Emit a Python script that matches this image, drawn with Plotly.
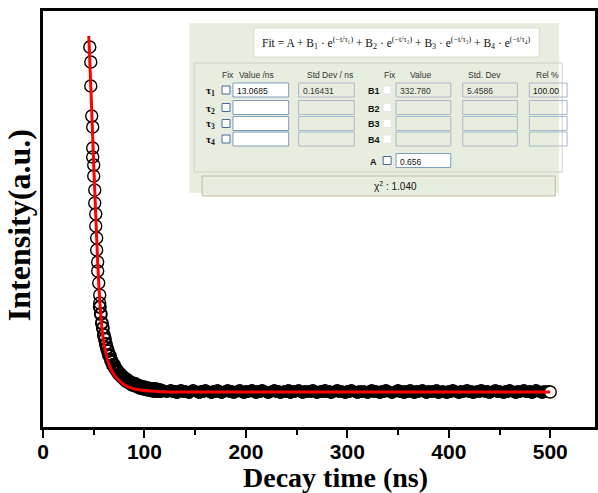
import numpy as np
import plotly.graph_objects as go

# ---------------- data ----------------
t_steep = [46.1, 47.1, 47.1, 48.0, 49.0, 49.0, 49.0, 50.0, 50.0, 51.0, 51.0, 52.0, 52.0,
           52.9, 52.9, 53.9, 53.9, 54.9, 55.9, 55.9]
i_steep = [380, 365, 341, 311, 300, 279, 270, 262, 251, 237, 224, 213, 201,
           189, 177, 165, 156, 144, 132, 124]

t_knee = list(range(56, 117))
i_knee = [120, 113, 104, 99, 92, 88, 83, 79, 76, 72, 71, 67, 65, 62, 62, 59, 58, 56, 55, 53,
          53, 51, 50, 50, 48, 48, 46, 47, 45, 45, 44, 43, 44, 42, 42, 43, 41, 41, 40, 41,
          39, 40, 39, 40, 38, 39, 38, 39, 37, 38, 38, 37, 38, 36, 37, 38, 36, 37, 36, 37, 36]

t_tail = list(range(118, 499, 2))
i_tail = [37, 36, 35, 36, 37, 35, 36, 34, 36, 37, 35, 36, 35, 34, 36, 37, 36, 35, 34, 36,
          35, 37, 36, 35, 34, 36, 35, 37, 36, 34, 35, 36, 37, 35, 36, 34, 35, 36, 37, 35,
          34, 36, 35, 36, 37, 35, 34, 36, 35, 37, 36, 35, 34, 35, 36, 37, 35, 36, 34, 35,
          36, 35, 37, 34, 36, 35, 36, 37, 35, 34, 36, 35, 36, 35, 37, 36, 34, 35, 36, 35,
          37, 35, 36, 34, 35, 36, 37, 35, 36, 35, 34, 36, 35, 37, 36, 35, 34, 36, 35, 36,
          35, 34, 36, 37, 35, 36, 35, 34, 36, 35, 37, 36, 35, 34, 35, 36, 37, 35, 36, 34,
          36, 35, 37, 35, 34, 36, 35, 36, 37, 35, 34, 36, 35, 36, 35, 37, 34, 35, 36, 35,
          34, 36, 35, 37, 36, 35, 34, 36, 35, 36, 37, 35, 36, 34, 35, 36, 35, 37, 36, 35,
          36, 34, 35, 36, 37, 35, 36, 35, 34, 36, 35, 37, 36, 35, 34, 36, 35, 36, 37, 35,
          35, 36, 34, 35, 37, 36, 35, 34, 36, 35, 36]
t_last, i_last = [500], [35]

t_fit = [45.1, 46.1, 48.0, 50.0, 52.0, 53.9, 55.9, 57.8, 59.8, 62.7, 65.7, 69.6, 75.5,
         82.4, 90.2, 104.9, 124.5, 200, 300, 400, 500]
i_fit = [391, 367, 317, 262, 212, 165, 127, 102, 85, 71, 61, 53, 46,
         41, 38, 36, 35, 35, 35, 35, 35]

x_ticks = [0, 100, 200, 300, 400, 500]

# fit-dialog contents
formula = ("Fit = A + B<sub>1</sub> · e<sup>(−t/τ₁)</sup> + B<sub>2</sub> · e<sup>(−t/τ₂)</sup>"
           " + B<sub>3</sub> · e<sup>(−t/τ₃)</sup> + B<sub>4</sub> · e<sup>(−t/τ₄)</sup>")
tau_labels = ["τ<sub>1</sub>", "τ<sub>2</sub>", "τ<sub>3</sub>", "τ<sub>4</sub>"]
b_labels = ["B1", "B2", "B3", "B4"]
tau1_value, tau1_std = "13.0685", "0.16431"
b1_value, b1_std, b1_rel = "332.780", "5.4586", "100.00"
a_value = "0.656"
chi2_text = "χ<sup>2</sup> : 1.040"

# ---------------- figure ----------------
W, H = 598, 493
L, R, T, B = 43, 0, 11, 66
PW, PH = W - L - R, H - T - B


def px(x):
    return (x - L) / PW


def py(y):
    return (H - B - y) / PH


fig = go.Figure()


def circles(tx, iy, lw, fill=None, size=12):
    sym = "circle" if fill else "circle-open"
    fig.add_trace(go.Scatter(x=[float(v) for v in tx], y=iy, mode="markers",
                             marker=dict(symbol=sym, size=size, color=fill or "black",
                                         line=dict(width=lw, color="black")),
                             showlegend=False, hoverinfo="skip"))


circles(t_steep, i_steep, 1.4)
circles(t_knee, i_knee, 2.0)
circles(t_tail, i_tail, 1.0, fill="black", size=11)
circles(t_last, i_last, 1.4, fill="white")

fig.add_trace(go.Scatter(x=t_fit, y=i_fit, mode="lines",
                         line=dict(color="#ff0000", width=3, shape="spline", smoothing=0.6),
                         showlegend=False, hoverinfo="skip"))

shapes = []
ann = []

def rect(x0, y0, x1, y1, fill="rgba(0,0,0,0)", line="#7f9db9", lw=1):
    shapes.append(dict(type="rect", xref="paper", yref="paper",
                       x0=px(x0), x1=px(x1), y0=py(y1), y1=py(y0),
                       fillcolor=fill, line=dict(color=line, width=lw), layer="above"))

def text(x, y, s, size=9, color="#222", anchor="left", bold=False, family="Liberation Sans"):
    ann.append(dict(xref="paper", yref="paper", x=px(x), y=py(y), text=s, showarrow=False,
                    xanchor=anchor, yanchor="middle",
                    font=dict(size=size, color=color, family=family,
                              weight="bold" if bold else "normal")))

BG = "#e7eddf"
# dialog background
rect(190, 23, 562, 193, fill=BG, line=BG, lw=0)
# formula box
rect(255, 28, 542, 57, fill="white", line="#d8d8d0")
text(398.5, 43, formula, size=11.5, color="#111", anchor="center", family="Liberation Serif")
# parameter group frame
rect(195, 63, 565, 172, fill="rgba(0,0,0,0)", line="#cfd2c4")
# headers
for x, s in [(221, "Fix"), (238, "Value /ns"), (306, "Std Dev / ns"), (384, "Fix"),
             (410, "Value"), (468, "Std. Dev"), (537, "Rel %")]:
    text(x, 75, s, size=8.5, color="#333")

rows_y = [91, 108.5, 124.5, 140]
for k, y in enumerate(rows_y):
    text(205, y, tau_labels[k], size=11, color="#111", bold=True, family="Liberation Serif")
    rect(223, y - 5, 231, y + 3, fill="white", line="#4a6a9a")
    rect(234, y - 8, 290, y + 6, fill="white", line="#7f9db9")
    rect(300, y - 8, 356, y + 6, line="#a9b8cc")
    text(368, y, b_labels[k], size=9, color="#111", bold=True)
    rect(385, y - 5, 393, y + 3, fill="white", line="#e8e8e8")
    rect(398, y - 8, 453, y + 6, line="#a9b8cc")
    rect(465, y - 8, 520, y + 6, line="#a9b8cc")
    rect(532, y - 8, 570, y + 6, line="#a9b8cc")

y1 = rows_y[0]
text(236, y1, tau1_value, size=8.5, color="#111")
text(302, y1, tau1_std, size=8.5, color="#333")
text(400, y1, b1_value, size=8.5, color="#333")
text(467, y1, b1_std, size=8.5, color="#333")
text(534, y1, b1_rel, size=8.5, color="#111")

ya = 161.5
text(370, ya, "A", size=9, color="#111", bold=True)
rect(385, ya - 5, 393, ya + 3, fill="white", line="#4a6a9a")
rect(398, ya - 8, 453, ya + 6, fill="white", line="#7f9db9")
text(400, ya, a_value, size=8.5, color="#111")

# chi-square panel
rect(203, 176, 558, 196, fill=BG, line="#c4b9a0")
text(397, 186, chi2_text, size=10, color="#111", anchor="center")

# axis titles
ann.append(dict(xref="paper", yref="paper", x=px(337), y=py(478), text="Decay time (ns)",
                showarrow=False, xanchor="center", yanchor="middle",
                font=dict(size=28, family="Liberation Serif", color="black", weight="bold")))
ann.append(dict(xref="paper", yref="paper", x=px(19), y=py(225), text="Intensity(a.u.)",
                showarrow=False, xanchor="center", yanchor="middle", textangle=-90,
                font=dict(size=32, family="Liberation Serif", color="black", weight="bold")))

fig.update_layout(
    width=W, height=H,
    margin=dict(l=L, r=R, t=T, b=B),
    paper_bgcolor="white", plot_bgcolor="white",
    shapes=shapes, annotations=ann,
    xaxis=dict(range=[0, (W - L - R) / 1.02], tickvals=x_ticks, ticktext=[str(v) for v in x_ticks],
               showgrid=False, zeroline=False, showline=True, linecolor="black", linewidth=3,
               mirror=True, ticks="outside", ticklen=8, tickwidth=2, tickcolor="black",
               ticklabelstandoff=-4,
               minor=dict(dtick=50, ticks="outside", ticklen=5, tickwidth=2, tickcolor="black"),
               tickfont=dict(size=21, family="Liberation Sans", color="black", weight="bold")),
    yaxis=dict(range=[0, PH], showticklabels=False, ticks="", showgrid=False, zeroline=False,
               showline=True, linecolor="black", linewidth=3, mirror=True),
)

fig.write_html("out.html")
